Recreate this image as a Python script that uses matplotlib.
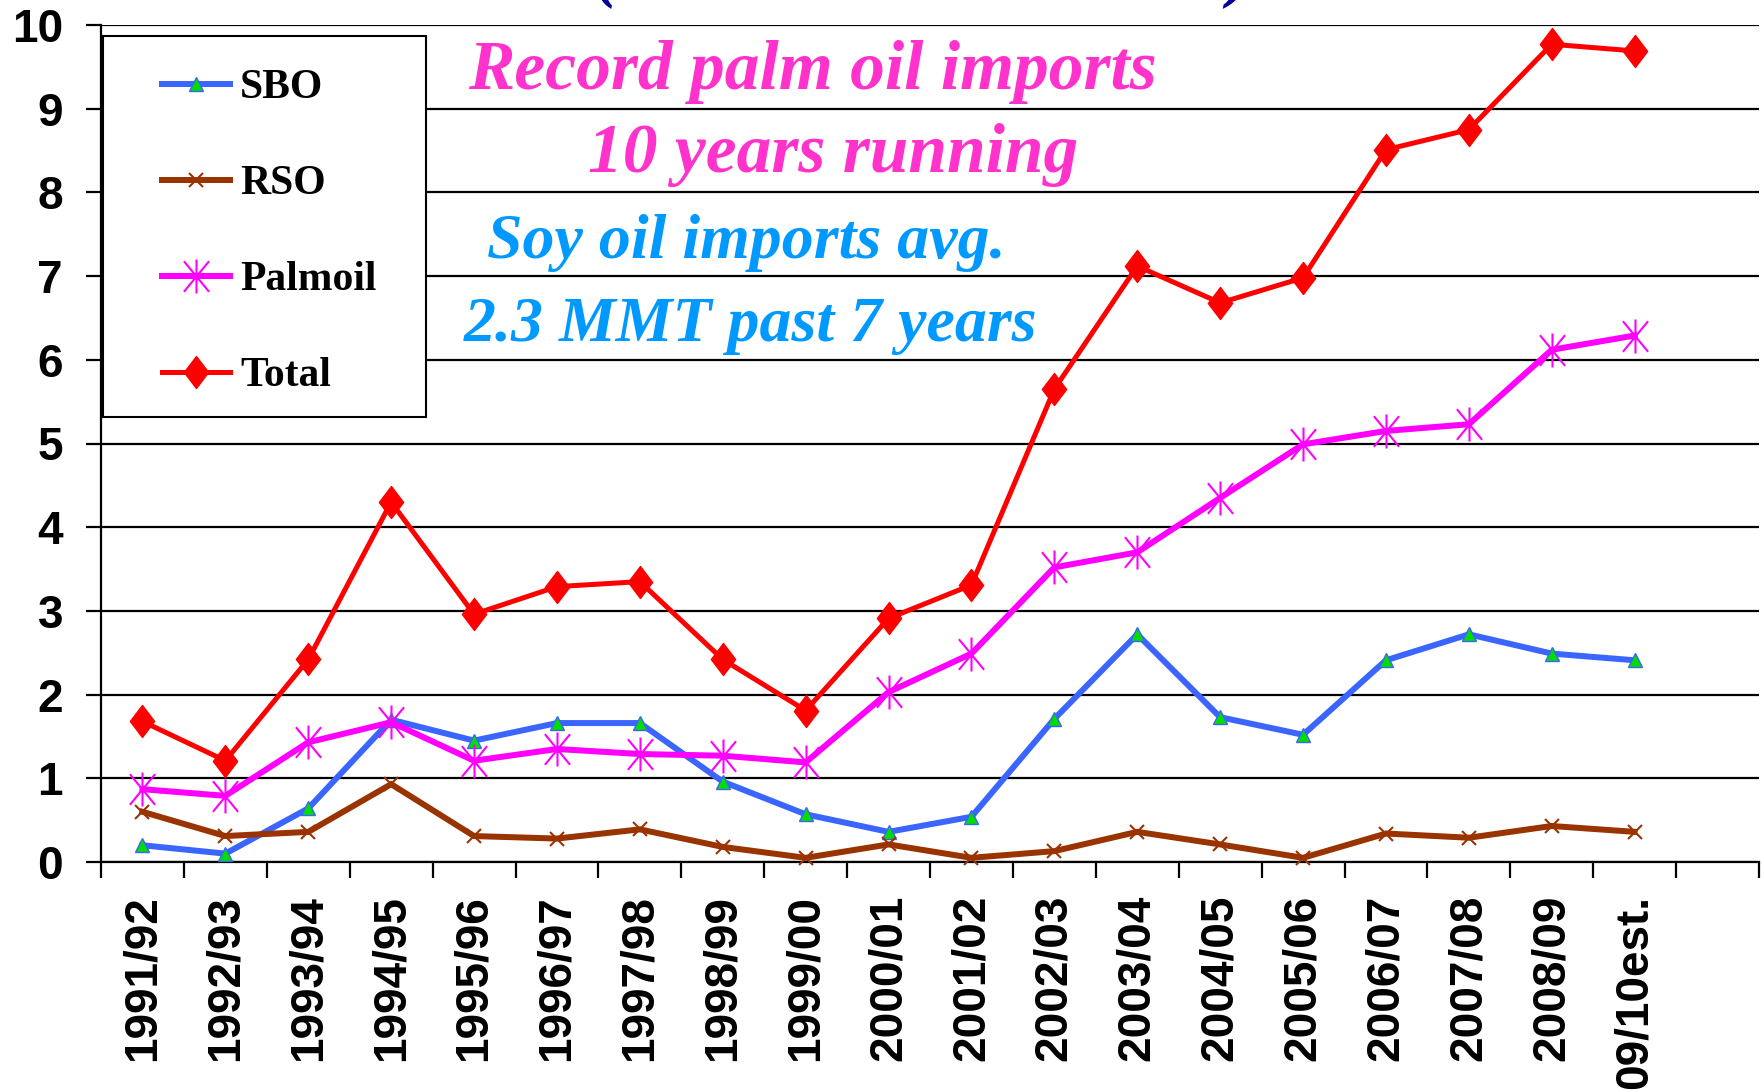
import matplotlib
matplotlib.use("Agg")
import matplotlib.pyplot as plt
import numpy as np
from matplotlib.path import Path
from matplotlib.patches import Rectangle

# ---- data (million metric tons) ----
seasons = ["1991/92", "1992/93", "1993/94", "1994/95", "1995/96", "1996/97",
           "1997/98", "1998/99", "1999/00", "2000/01", "2001/02", "2002/03",
           "2003/04", "2004/05", "2005/06", "2006/07", "2007/08", "2008/09",
           "09/10est."]
sbo = [0.20, 0.10, 0.64, 1.70, 1.45, 1.66, 1.66, 0.96, 0.57, 0.36, 0.54, 1.71,
       2.72, 1.73, 1.52, 2.41, 2.72, 2.49, 2.41]
rso = [0.60, 0.31, 0.36, 0.93, 0.31, 0.28, 0.39, 0.18, 0.05, 0.21, 0.05, 0.13,
       0.36, 0.21, 0.05, 0.34, 0.29, 0.43, 0.36]
palmoil = [0.87, 0.79, 1.43, 1.67, 1.21, 1.35, 1.29, 1.27, 1.19, 2.03, 2.49, 3.52,
           3.70, 4.35, 4.99, 5.15, 5.23, 6.12, 6.29]
total = [1.68, 1.21, 2.42, 4.30, 2.96, 3.29, 3.35, 2.42, 1.81, 2.91, 3.31, 5.65,
         7.12, 6.68, 6.98, 8.51, 8.75, 9.77, 9.69]
series_names = ["SBO", "RSO", "Palmoil", "Total"]

DPI = 100
fig = plt.figure(figsize=(17.65, 10.92), dpi=DPI)
ax = fig.add_axes([101 / 1765, 1 - 862 / 1092, 1658 / 1765, 837 / 1092])

def px(p):
    return p * 72.0 / DPI

# custom markers
star_path = Path([(0, -0.5), (0, 0.5), (-0.37, -0.45), (0.37, 0.45),
                  (-0.37, 0.45), (0.37, -0.45)],
                 [Path.MOVETO, Path.LINETO, Path.MOVETO, Path.LINETO,
                  Path.MOVETO, Path.LINETO])
diamond_path = Path([(0, 0.5), (0.38, 0), (0, -0.5), (-0.38, 0), (0, 0.5)],
                    [Path.MOVETO, Path.LINETO, Path.LINETO, Path.LINETO, Path.CLOSEPOLY])

styles = {
    "SBO": dict(color="#3A66FF", lw=px(6), marker="^", ms=px(14),
                mfc="#00DD00", mec="#3A66FF", mew=1.0),
    "RSO": dict(color="#993300", lw=px(6), marker="x", ms=px(14),
                mec="#993300", mew=1.5),
    "Palmoil": dict(color="#FF00FF", lw=px(6), marker=star_path, ms=px(34),
                    mfc="none", mec="#FF00FF", mew=1.5),
    "Total": dict(color="#FF0000", lw=px(5), marker=diamond_path, ms=px(32),
                  mfc="#FF0000", mec="#FF0000", mew=1.0),
}

x = np.arange(len(seasons))
data = {"SBO": sbo, "RSO": rso, "Palmoil": palmoil, "Total": total}
handles = []
for name in series_names:
    (ln,) = ax.plot(x, data[name], label=name, zorder=3, clip_on=False,
                    solid_joinstyle="miter", **styles[name])
    handles.append(ln)

ax.set_xlim(-0.5, 19.5)
ax.set_ylim(0, 10)

# spines
for s in ["top", "right"]:
    ax.spines[s].set_visible(False)
for s in ["left", "bottom"]:
    ax.spines[s].set_linewidth(1.6)
    ax.spines[s].set_color("black")

# y axis
ax.set_yticks(range(0, 11))
ax.yaxis.grid(True, color="black", lw=1.6)
ax.set_axisbelow(True)
ax.tick_params(axis="y", direction="out", length=px(15), width=1.6, pad=px(23),
               labelsize=33)
for t in ax.get_yticklabels():
    t.set_fontfamily(["Liberation Sans", "DejaVu Sans"])
    t.set_fontweight("bold")

# x axis
ax.set_xticks(x)
ax.set_xticklabels(seasons, rotation=90, fontsize=33, fontweight="bold",
                   family=["Liberation Sans", "DejaVu Sans"])
ax.set_xticks(np.arange(-0.5, 20.0, 1.0), minor=True)
ax.tick_params(axis="x", which="major", length=0, pad=px(33))
ax.tick_params(axis="x", which="minor", direction="out", length=px(16), width=1.6)

# legend (frame drawn as separate rectangle)
ax.add_patch(Rectangle(((103 - 101) / 1658, (862 - 417) / 837),
                       (426 - 103) / 1658, (417 - 36) / 837,
                       transform=ax.transAxes, fill=True, facecolor="white",
                       edgecolor="black", lw=1.5, zorder=5, clip_on=False))
leg = ax.legend(handles, series_names, loc="upper left",
                bbox_to_anchor=((162 - 101) / 1658, (862 - 69) / 837),
                frameon=False, borderpad=0, borderaxespad=0,
                handlelength=68 / 41.7, handletextpad=10 / 41.7,
                labelspacing=1.39, numpoints=1,
                prop=dict(family=["Liberation Serif", "DejaVu Serif"],
                          weight="bold", size=30))
leg.set_zorder(6)

# annotations
serif = ["Liberation Serif", "DejaVu Serif"]
pink = "#FF33CC"
blue = "#0099FF"
ax.text(0.4294, 0.944, "Record palm oil imports", transform=ax.transAxes,
        ha="center", va="center", fontsize=50, color=pink, family=serif,
        weight="bold", style="italic")
ax.text(0.4415, 0.845, "10 years running", transform=ax.transAxes,
        ha="center", va="center", fontsize=50, color=pink, family=serif,
        weight="bold", style="italic")
ax.text(0.389, 0.7395, "Soy oil imports avg.", transform=ax.transAxes,
        ha="center", va="center", fontsize=46, color=blue, family=serif,
        weight="bold", style="italic")
ax.text(0.392, 0.640, "2.3 MMT past 7 years", transform=ax.transAxes,
        ha="center", va="center", fontsize=46, color=blue, family=serif,
        weight="bold", style="italic")

# clipped title parentheses peeking in from the top edge
fig.text(595 / 1765, 1 + 6 / 1092, "(", ha="left", va="baseline", fontsize=50,
         color="#000099", family=serif, weight="bold", style="italic")
fig.text(1250 / 1765, 1 + 6 / 1092, ")", ha="right", va="baseline", fontsize=50,
         color="#000099", family=serif, weight="bold", style="italic")

fig.savefig("out.png", dpi=DPI, facecolor="white")
